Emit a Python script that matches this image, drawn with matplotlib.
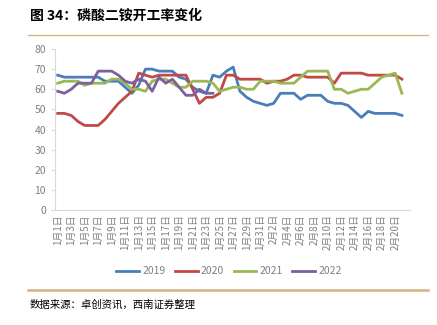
import matplotlib.pyplot as plt

plt.rcParams['font.family'] = ['Noto Sans CJK SC', 'DejaVu Sans']

# 日期 1月1日 - 2月21日 (52 天)
days = list(range(52))
tick_labels = ["1月1日", "1月3日", "1月5日", "1月7日", "1月9日", "1月11日", "1月13日",
               "1月15日", "1月17日", "1月19日", "1月21日", "1月23日", "1月25日",
               "1月27日", "1月29日", "1月31日", "2月2日", "2月4日", "2月6日",
               "2月8日", "2月10日", "2月12日", "2月14日", "2月16日", "2月18日", "2月20日"]

y2019 = [67, 66, 66, 66, 66, 66, 66, 64, 64, 64, 61, 58, 62, 70, 70, 69, 69, 69,
         66, 65, 61, 59, 58, 67, 66, 69, 71, 59, 56, 54, 53, 52, 53, 58, 58, 58,
         55, 57, 57, 57, 54, 53, 53, 52, 49, 46, 49, 48, 48, 48, 48, 47]
y2020 = [48, 48, 47, 44, 42, 42, 42, 45, 49, 53, 56, 59, 68, 67, 66, 67, 67, 67,
         67, 67, 60, 53, 56, 56, 58, 67, 67, 65, 65, 65, 65, 63, 64, 64, 65, 67,
         67, 66, 66, 66, 66, 63, 68, 68, 68, 68, 67, 67, 67, 67, 67, 65]
y2021 = [63, 64, 64, 64, 62, 63, 63, 63, 65, 65, 63, 60, 60, 59, 64, 65, 65, 63,
         61, 61, 64, 64, 64, 63, 59, 60, 61, 61, 60, 60, 64, 64, 64, 63, 63, 63,
         66, 69, 69, 69, 69, 60, 60, 58, 59, 60, 60, 63, 66, 67, 68, 58]
y2022 = [59, 58, 60, 63, 63, 63, 69, 69, 69, 67, 64, 63, 65, 64, 59, 66, 63, 65,
         61, 57, 57, 60, 58, 58]

fig = plt.figure(figsize=(4.37, 3.25), dpi=100)
ax = fig.add_axes([55/437, 1 - 210/325, 355/437, 161/325])

ax.plot(days, y2019, color='#4A7EBB', lw=2, label='2019')
ax.plot(days, y2020, color='#BE4B48', lw=2, label='2020')
ax.plot(days, y2021, color='#98B954', lw=2, label='2021')
ax.plot(days[:len(y2022)], y2022, color='#7D60A0', lw=2, label='2022')

ax.set_ylim(0, 80)
ax.set_yticks(range(0, 81, 10))
ax.set_xlim(-0.4, 52.2)
ax.set_xticks(days[::2])
ax.set_xticklabels(tick_labels, rotation=90, fontsize=7, color='#808080')
ax.tick_params(axis='x', length=0, pad=3)
ax.tick_params(axis='y', labelsize=7.5, colors='#808080', length=3, color='#D9D9D9')
for s in ['top', 'right']:
    ax.spines[s].set_visible(False)
ax.spines['left'].set_color('#D9D9D9')
ax.spines['bottom'].set_color('#D9D9D9')

ax.legend(loc='center', bbox_to_anchor=(0.49, -0.38), ncol=4, frameon=False,
          fontsize=7.5, handlelength=2.2, columnspacing=0.9, handletextpad=0.3,
          labelcolor='#808080')

fig.text(30/437, 1 - 16/325, '图 34：磷酸二铵开工率变化', fontsize=10, fontweight='bold',
         va='center', ha='left')
fig.add_artist(plt.Line2D([28/437, 428/437], [1 - 35/325, 1 - 35/325], color='#D4B483', lw=1.0))
fig.add_artist(plt.Line2D([28/437, 428/437], [1 - 290/325, 1 - 290/325], color='#D4B483', lw=1.8))
fig.text(30/437, 1 - 305/325, '数据来源：卓创资讯，西南证券整理', fontsize=7.5, style='italic',
         va='center', ha='left')

fig.savefig('out.png', dpi=100)
